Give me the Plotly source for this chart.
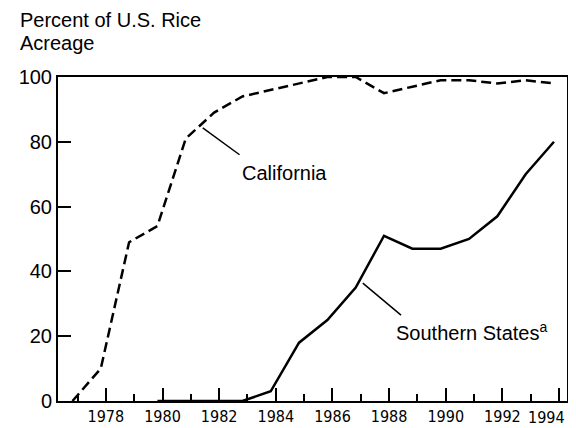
import plotly.graph_objects as go

years_ca = [1977, 1978, 1979, 1980, 1981, 1982, 1983, 1984, 1985, 1986,
            1987, 1988, 1989, 1990, 1991, 1992, 1993, 1994]
california = [0, 10, 49, 54, 81, 89, 94, 96, 98, 100,
              100, 95, 97, 99, 99, 98, 99, 98]

years_so = [1980, 1981, 1982, 1983, 1984, 1985, 1986, 1987, 1988, 1989,
            1990, 1991, 1992, 1993, 1994]
southern = [0, 0, 0, 0, 3, 18, 25, 35, 51, 47, 47, 50, 57, 70, 80]

major_years = [1978, 1980, 1982, 1984, 1986, 1988, 1990, 1992, 1994]
minor_years = [1977, 1979, 1981, 1983, 1985, 1987, 1989, 1991, 1993]
y_ticks = [0, 20, 40, 60, 80, 100]
TICK_SHIFT = 0.18

font_main = "Liberation Sans, Arial, Helvetica, sans-serif"
font_narrow = "Liberation Sans Narrow, Arial Narrow, DejaVu Sans Condensed, Liberation Sans, sans-serif"

PLOT_W = 509  # plot area width in px
PLOT_H = 324  # plot area height in px

fig = go.Figure()
fig.add_trace(go.Scatter(x=years_ca, y=california, mode="lines",
                         line=dict(color="black", width=2.5, dash="10px,5px"),
                         cliponaxis=False, showlegend=False))
fig.add_trace(go.Scatter(x=years_so, y=southern, mode="lines",
                         line=dict(color="black", width=2.5),
                         cliponaxis=False, showlegend=False))

# last year label is drawn right-aligned to the frame so it is not clipped at the page edge
tick_text = [str(y) for y in major_years[:-1]] + [""]

fig.update_xaxes(range=[1976.49, 1994.46], showgrid=False, zeroline=False,
                 automargin=False, ticklabeloverflow="allow",
                 showline=True, linecolor="black", linewidth=2, mirror=True,
                 ticks="inside", ticklen=13, tickwidth=1.5, tickcolor="black",
                 tickmode="array",
                 tickvals=[y + TICK_SHIFT for y in major_years],
                 ticktext=tick_text,
                 tickfont=dict(family=font_narrow, size=16, color="black"),
                 minor=dict(ticks="inside", ticklen=7, tickwidth=1.5, tickcolor="black",
                            tickmode="array",
                            tickvals=[y + TICK_SHIFT for y in minor_years],
                            showgrid=False))
fig.update_yaxes(range=[0, 100], showgrid=False, zeroline=False,
                 automargin=False,
                 showline=True, linecolor="black", linewidth=2, mirror=True,
                 ticks="inside", ticklen=13, tickwidth=1.5, tickcolor="black",
                 tickmode="array", tickvals=y_ticks,
                 ticktext=[str(v) for v in y_ticks],
                 tickfont=dict(family=font_main, size=20, color="black"))

fig.add_annotation(xref="paper", yref="paper", x=1.0, y=0.0,
                   text=str(major_years[-1]), showarrow=False,
                   xanchor="right", yanchor="top", yshift=-5,
                   font=dict(family=font_narrow, size=16, color="black"))

# leader lines
fig.add_shape(type="line", x0=1981.6, y0=84.3, x1=1982.9, y1=76,
              line=dict(color="black", width=1.5))
fig.add_shape(type="line", x0=1987.25, y0=36.4, x1=1988.6, y1=26.5,
              line=dict(color="black", width=1.5))

fig.add_annotation(x=1982.9, y=70.4, text="California", showarrow=False,
                   xanchor="left", yanchor="middle",
                   font=dict(family=font_main, size=20, color="black"))
fig.add_annotation(x=1988.35, y=21.3, text="Southern States<sup>a</sup>", showarrow=False,
                   xanchor="left", yanchor="middle",
                   font=dict(family=font_main, size=20, color="black"))

fig.add_annotation(xref="paper", yref="paper", x=(18 - 58) / PLOT_W, y=1.0 + (77 - 20) / PLOT_H,
                   text="Percent of U.S. Rice", showarrow=False,
                   xanchor="left", yanchor="middle",
                   font=dict(family=font_main, size=20, color="black"))
fig.add_annotation(xref="paper", yref="paper", x=(18 - 58) / PLOT_W, y=1.0 + (77 - 43) / PLOT_H,
                   text="Acreage", showarrow=False,
                   xanchor="left", yanchor="middle",
                   font=dict(family=font_main, size=20, color="black"))

# the page shows the figure 8px right and 8px down
fig.update_layout(width=576, height=420,
                  margin=dict(l=50, r=17, t=69, b=27, autoexpand=False),
                  paper_bgcolor="white", plot_bgcolor="white",
                  showlegend=False)

fig.write_html("out.html")
